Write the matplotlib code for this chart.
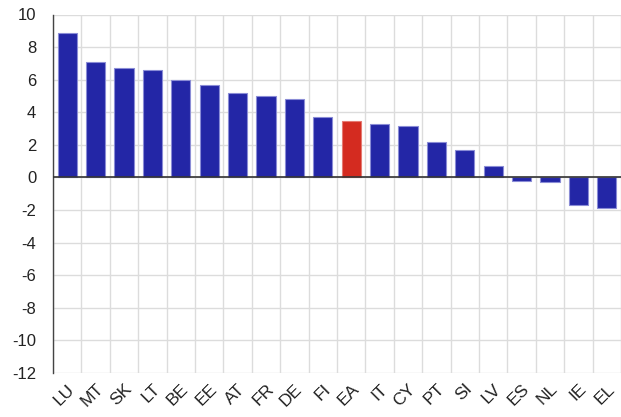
import matplotlib
matplotlib.use("Agg")
import matplotlib.pyplot as plt
import numpy as np

plt.rcParams['font.family'] = ['Liberation Sans', 'DejaVu Sans']

countries = ["LU", "MT", "SK", "LT", "BE", "EE", "AT", "FR", "DE", "FI",
             "EA", "IT", "CY", "PT", "SI", "LV", "ES", "NL", "IE", "EL"]
values = [8.85, 7.06, 6.71, 6.61, 6.0, 5.68, 5.16, 5.02, 4.82, 3.72,
          3.49, 3.29, 3.17, 2.2, 1.67, 0.72, -0.2, -0.29, -1.67, -1.9]
highlight = "EA"
yticks = list(range(-12, 11, 2))

blue = "#2326a6"
red = "#d42b20"
colors = [red if c == highlight else blue for c in countries]

fig = plt.figure(figsize=(6.21, 4.17), dpi=100)
ax = fig.add_axes([53/621, 1 - 373/417, (621 - 53)/621, (373 - 14.5)/417])

x = np.arange(len(countries))
ax.bar(x, values, width=0.67, color=colors, edgecolor="#8a8cd6", linewidth=0.8, zorder=3)
for b, c in zip(ax.patches, countries):
    if c == highlight:
        b.set_edgecolor("#e57a72")

ax.set_xlim(-0.5, len(countries) - 0.5)
ax.set_ylim(-12, 10)
ax.set_yticks(yticks)
ax.set_yticklabels([str(t) for t in yticks], fontsize=12, color="#222222")
ax.set_xticks(x)
ax.set_xticklabels(countries, rotation=45, ha="right", va="top", rotation_mode="anchor",
                   fontsize=12.5, color="#222222")
ax.set_xticks(np.arange(-0.5, len(countries), 1), minor=True)

ax.grid(True, which="minor", axis="x", color="#dcdcdc", linewidth=1, zorder=0)
ax.grid(True, which="major", axis="y", color="#dcdcdc", linewidth=1, zorder=0)
ax.tick_params(axis="both", which="both", length=0)
ax.tick_params(axis="y", pad=12)
ax.tick_params(axis="x", pad=6)
for s in ["top", "right", "bottom"]:
    ax.spines[s].set_visible(False)
ax.spines["left"].set_color("#444444")
ax.spines["left"].set_linewidth(1)
ax.axhline(0, color="#333333", linewidth=1.2, zorder=4)

fig.savefig("out.png", dpi=100)
